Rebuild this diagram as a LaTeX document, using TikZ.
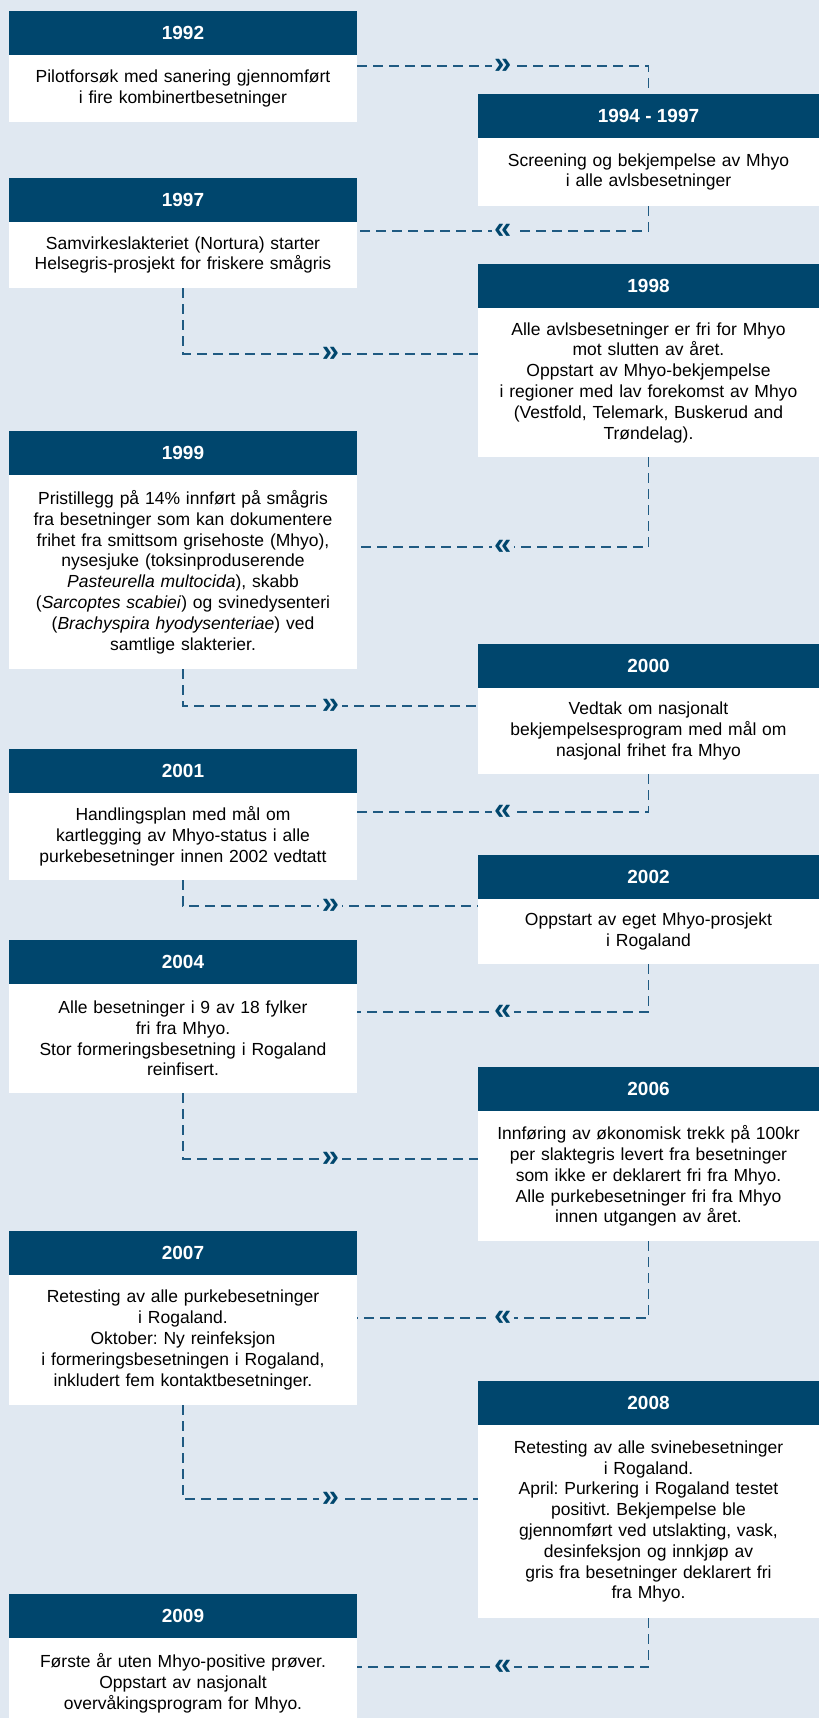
\documentclass[tikz,border=0pt]{standalone}
\usepackage{fontspec}
\setmainfont{Liberation Sans}
\frenchspacing
\usetikzlibrary{positioning}
\definecolor{pagebg}{HTML}{E0E8F1}
\definecolor{headblue}{HTML}{00466D}
\definecolor{linkblue}{HTML}{1F5A82}
\begin{document}
\begin{tikzpicture}[x=1pt, y=-1pt,
  hdr/.style={anchor=north west, fill=headblue, text=white, font=\fontsize{19}{22}\selectfont\bfseries,
    minimum height=44, inner sep=0pt, outer sep=0pt},
  body/.style={below=0pt of #1, fill=white, align=center,
    font=\fontsize{17.5}{20.8}\selectfont, inner sep=0pt, outer sep=0pt},
  lw/.style={minimum width=348},
  rw/.style={minimum width=341},
  ltx/.style={text width=348},
  rtx/.style={text width=341},
  link/.style={draw=linkblue, line width=1.4pt, dash pattern=on 10pt off 6pt},
  chev/.style={fill=pagebg, text=headblue, inner sep=2.5pt, font=\fontsize{31}{31}\selectfont\bfseries}]
  \useasboundingbox (0,0) rectangle (819,1718);
  \fill[pagebg] (0,0) rectangle (819,1718);

  % Left column
  \node[hdr, lw] (h1992) at (9,11) {1992};
  \node[body=h1992, ltx, minimum height=67] (b1992) {Pilotforsøk med sanering gjennomført\\i fire kombinertbesetninger};

  \node[hdr, lw] (h1997) at (9,178) {1997};
  \node[body=h1997, ltx, minimum height=66] (b1997) {Samvirkeslakteriet (Nortura) starter\\Helsegris-prosjekt for friskere smågris};

  \node[hdr, lw] (h1999) at (9,431) {1999};
  \node[body=h1999, ltx, minimum height=194] (b1999) {Pristillegg på 14\% innført på smågris\\fra besetninger som kan dokumentere\\frihet fra smittsom grisehoste (Mhyo),\\nysesjuke (toksinproduserende\\\textit{Pasteurella multocida}), skabb\\(\textit{Sarcoptes scabiei}) og svinedysenteri\\(\textit{Brachyspira hyodysenteriae}) ved\\samtlige slakterier.};

  \node[hdr, lw] (h2001) at (9,749) {2001};
  \node[body=h2001, ltx, minimum height=87] (b2001) {Handlingsplan med mål om\\kartlegging av Mhyo-status i alle\\purkebesetninger innen 2002 vedtatt};

  \node[hdr, lw] (h2004) at (9,940) {2004};
  \node[body=h2004, ltx, minimum height=109] (b2004) {Alle besetninger i 9 av 18 fylker\\fri fra Mhyo.\\Stor formeringsbesetning i Rogaland\\reinfisert.};

  \node[hdr, lw] (h2007) at (9,1231) {2007};
  \node[body=h2007, ltx, minimum height=130] (b2007) {Retesting av alle purkebesetninger\\i Rogaland.\\Oktober: Ny reinfeksjon\\i formeringsbesetningen i Rogaland,\\inkludert fem kontaktbesetninger.};

  \node[hdr, lw] (h2009) at (9,1594) {2009};
  \node[body=h2009, ltx, minimum height=90] (b2009) {Første år uten Mhyo-positive prøver.\\Oppstart av nasjonalt\\overvåkingsprogram for Mhyo.};

  % Right column
  \node[hdr, rw] (h1994) at (478,94) {1994 - 1997};
  \node[body=h1994, rtx, minimum height=68] (b1994) {Screening og bekjempelse av Mhyo\\i alle avlsbesetninger};

  \node[hdr, rw] (h1998) at (478,264) {1998};
  \node[body=h1998, rtx, minimum height=149] (b1998) {Alle avlsbesetninger er fri for Mhyo\\mot slutten av året.\\Oppstart av Mhyo-bekjempelse\\i regioner med lav forekomst av Mhyo\\(Vestfold, Telemark, Buskerud and\\Trøndelag).};

  \node[hdr, rw] (h2000) at (478,644) {2000};
  \node[body=h2000, rtx, minimum height=86] (b2000) {Vedtak om nasjonalt\\bekjempelsesprogram med mål om\\nasjonal frihet fra Mhyo};

  \node[hdr, rw] (h2002) at (478,855) {2002};
  \node[body=h2002, rtx, minimum height=65] (b2002) {Oppstart av eget Mhyo-prosjekt\\i Rogaland};

  \node[hdr, rw] (h2006) at (478,1067) {2006};
  \node[body=h2006, rtx, minimum height=130] (b2006) {Innføring av økonomisk trekk på 100kr\\per slaktegris levert fra besetninger\\som ikke er deklarert fri fra Mhyo.\\Alle purkebesetninger fri fra Mhyo\\innen utgangen av året.};

  \node[hdr, rw] (h2008) at (478,1381) {2008};
  \node[body=h2008, rtx, minimum height=193] (b2008) {Retesting av alle svinebesetninger\\i Rogaland.\\April: Purkering i Rogaland testet\\positivt. Bekjempelse ble\\gjennomført ved utslakting, vask,\\desinfeksjon og innkjøp av\\gris fra besetninger deklarert fri\\fra Mhyo.};

  % Links
  \draw[link] ([yshift=-11pt]b1992.north east) -| (h1994.north) node[chev, pos=0.25] {»};
  \draw[link] (b1994.south) |- ([yshift=-9pt]b1997.north east) node[chev, pos=0.75] {«};
  \draw[link] (b1997.south) |- ([yshift=-46pt]b1998.north west) node[chev, pos=0.75] {»};
  \draw[link] (b1998.south) |- ([yshift=-72pt]b1999.north east) node[chev, pos=0.75] {«};
  \draw[link] (b1999.south) |- ([yshift=-18pt]b2000.north west) node[chev, pos=0.75] {»};
  \draw[link] (b2000.south) |- ([yshift=-19pt]b2001.north east) node[chev, pos=0.75] {«};
  \draw[link] (b2001.south) |- ([yshift=-7pt]b2002.north west) node[chev, pos=0.75] {»};
  \draw[link] (b2002.south) |- ([yshift=-28pt]b2004.north east) node[chev, pos=0.75] {«};
  \draw[link] (b2004.south) |- ([yshift=-48pt]b2006.north west) node[chev, pos=0.75] {»};
  \draw[link] (b2006.south) |- ([yshift=-43pt]b2007.north east) node[chev, pos=0.75] {«};
  \draw[link] (b2007.south) |- ([yshift=-74pt]b2008.north west) node[chev, pos=0.75] {»};
  \draw[link] (b2008.south) |- ([yshift=-29pt]b2009.north east) node[chev, pos=0.75] {«};
\end{tikzpicture}
\end{document}
